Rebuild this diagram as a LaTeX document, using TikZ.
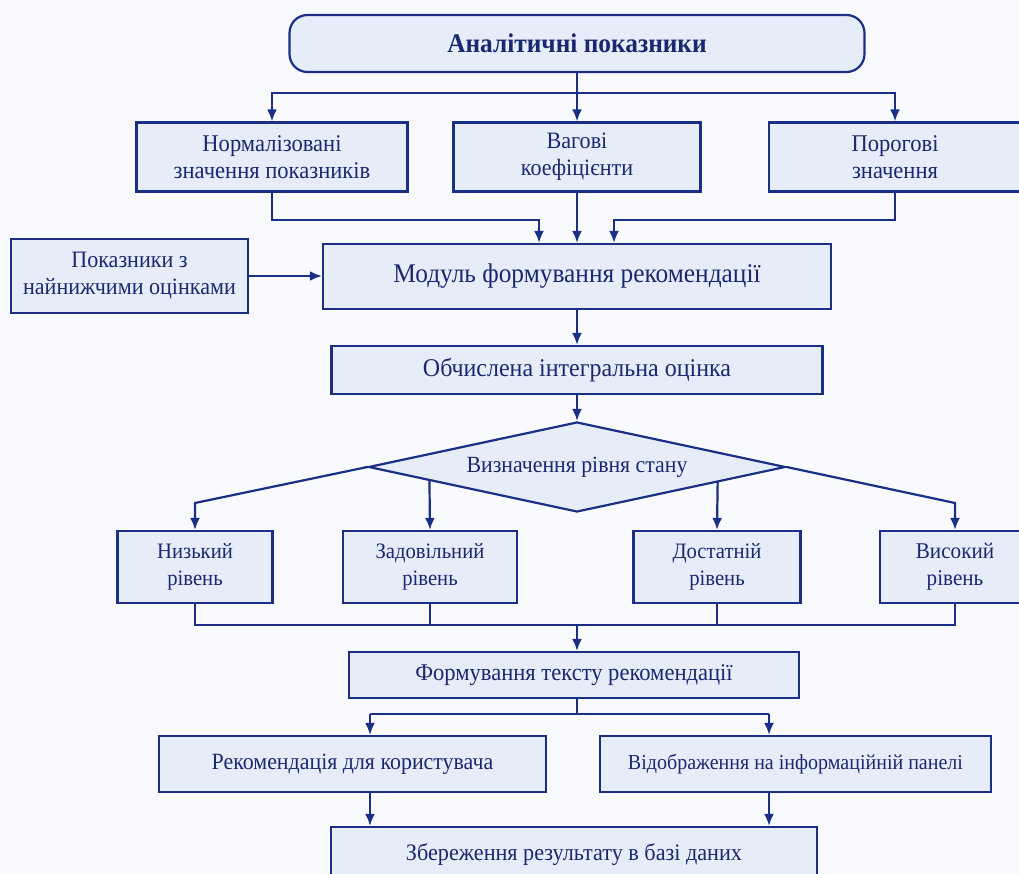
\documentclass[tikz,border=0pt]{standalone}
\usepackage{fontspec}
\setmainfont{Liberation Serif}[FakeStretch=0.94]
\usetikzlibrary{calc,shapes.geometric,positioning,arrows,arrows.meta}
\definecolor{navyline}{HTML}{1C2F86}
\definecolor{navytext}{HTML}{1A2870}
\definecolor{boxfill}{HTML}{E6EDF9}
\definecolor{pagefill}{HTML}{F8FAFD}
\newcommand{\fsz}[1]{\fontsize{#1}{27}\selectfont}

\begin{document}
\begin{tikzpicture}[x=1pt,y=-1pt]

  \tikzstyle{block} = [draw=navyline, fill=boxfill, rectangle, line width=2.2pt, text=navytext,
                       align=center, inner sep=0pt, font=\fsz{23.5}]
  \tikzstyle{header} = [block, rounded corners=18pt, font=\fsz{27}\bfseries]
  \tikzstyle{decision} = [block, diamond, shape aspect=4.63, minimum width=417pt, minimum height=90pt]
  \tikzstyle{line} = [-, color=navyline, line width=2.2pt]
  \tikzstyle{arrow} = [-{Latex[length=12pt,width=10pt]}, color=navyline, line width=2.2pt]

  \fill[pagefill] (0,0) rectangle (1019,874);
  \useasboundingbox (0,0) rectangle (1019,874);

  % input blocks
  \node[header, minimum width=575pt, minimum height=57pt] (title) at (577,43.5) {Аналітичні показники};
  \node[block, minimum width=271pt, minimum height=69pt, font=\fsz{24}] (norm) at (272,157) {Нормалізовані\\значення показників};
  \node[block, minimum width=247pt, minimum height=69pt] (vag) at (577,157) {Вагові\\коефіцієнти};
  \node[block, minimum width=252pt, minimum height=69pt, font=\fsz{24}] (por) at (895,157) {Порогові\\значення};
  \node[block, minimum width=237pt, minimum height=74pt] (low) at (129.5,276) {Показники з\\найнижчими оцінками};
  \node[block, minimum width=508pt, minimum height=65pt, font=\fsz{27}] (modul) at (577,276.5) {Модуль формування рекомендації};
  \node[block, minimum width=491pt, minimum height=48pt, font=\fsz{25.5}] (calc) at (577,370) {Обчислена інтегральна оцінка};
  \node[decision, font=\fsz{23.2}] (dia) at (577,467) {Визначення рівня стану};

  % levels
  \node[block, minimum width=155pt, minimum height=72pt, font=\fsz{22}] (lvlLow) at (195,567) {Низький\\рівень};
  \node[block, minimum width=174pt, minimum height=72pt, font=\fsz{22}] (lvlOk) at (430,567) {Задовільний\\рівень};
  \node[block, minimum width=167pt, minimum height=72pt, font=\fsz{22}] (lvlGood) at (717,567) {Достатній\\рівень};
  \node[block, minimum width=150pt, minimum height=72pt, font=\fsz{22.5}] (lvlHigh) at (955,567) {Високий\\рівень};

  % output blocks
  \node[block, minimum width=450pt, minimum height=46pt, font=\fsz{24}] (form) at (574,675) {Формування тексту рекомендації};
  \node[block, minimum width=387pt, minimum height=56pt, font=\fsz{23.3}] (rec) at (352.5,764) {Рекомендація для користувача};
  \node[block, minimum width=391pt, minimum height=56pt, font=\fsz{21.3}] (disp) at (795.5,764) {Відображення на інформаційній панелі};
  \node[block, minimum width=486pt, minimum height=56pt, font=\fsz{23.6}] (save) at (574,855) {Збереження результату в базі даних};

  \coordinate (splitTop) at (577,93);
  \coordinate (mergeL) at (539,220);
  \coordinate (mergeR) at (614,220);
  \coordinate (bendL) at (195,503);
  \coordinate (bendR) at (955,503);
  \coordinate (joinLvl) at (577,625);
  \coordinate (forkL) at (370,714);
  \coordinate (forkR) at (769,714);

  \draw[line] (title.south) -- (splitTop);
  \draw[arrow] (splitTop) -| (norm.north);
  \draw[arrow] (splitTop) -- (vag.north);
  \draw[arrow] (splitTop) -| (por.north);
  \draw[arrow] (norm.south) |- (mergeL) -- (mergeL |- modul.north);
  \draw[arrow] (vag.south) -- (modul.north);
  \draw[arrow] (por.south) |- (mergeR) -- (mergeR |- modul.north);
  \draw[arrow] (low.east) -- (low.east -| modul.west);
  \draw[arrow] (modul.south) -- (calc.north);
  \draw[arrow] (calc.south) -- (dia.north);

  \draw[arrow] (dia.west) -- (bendL) -- (lvlLow.north);
  \draw[arrow] ($(dia.west)!0.296!(dia.south)$) -- (lvlOk.north);
  \draw[arrow] ($(dia.east)!0.329!(dia.south)$) -- (lvlGood.north);
  \draw[arrow] (dia.east) -- (bendR) -- (lvlHigh.north);

  \draw[line] (lvlLow.south) |- (joinLvl);
  \draw[line] (lvlHigh.south) |- (joinLvl);
  \draw[line] (lvlOk.south) -- (lvlOk.south |- joinLvl);
  \draw[line] (lvlGood.south) -- (lvlGood.south |- joinLvl);
  \draw[arrow] (joinLvl) -- (joinLvl |- form.north);

  \draw[line] (joinLvl |- form.south) -- (joinLvl |- forkL);
  \draw[line] (forkL) -- (forkR);
  \draw[arrow] (forkL) -- (forkL |- rec.north);
  \draw[arrow] (forkR) -- (forkR |- disp.north);
  \draw[arrow] (forkL |- rec.south) -- (forkL |- save.north);
  \draw[arrow] (forkR |- disp.south) -- (forkR |- save.north);

\end{tikzpicture}
\end{document}
